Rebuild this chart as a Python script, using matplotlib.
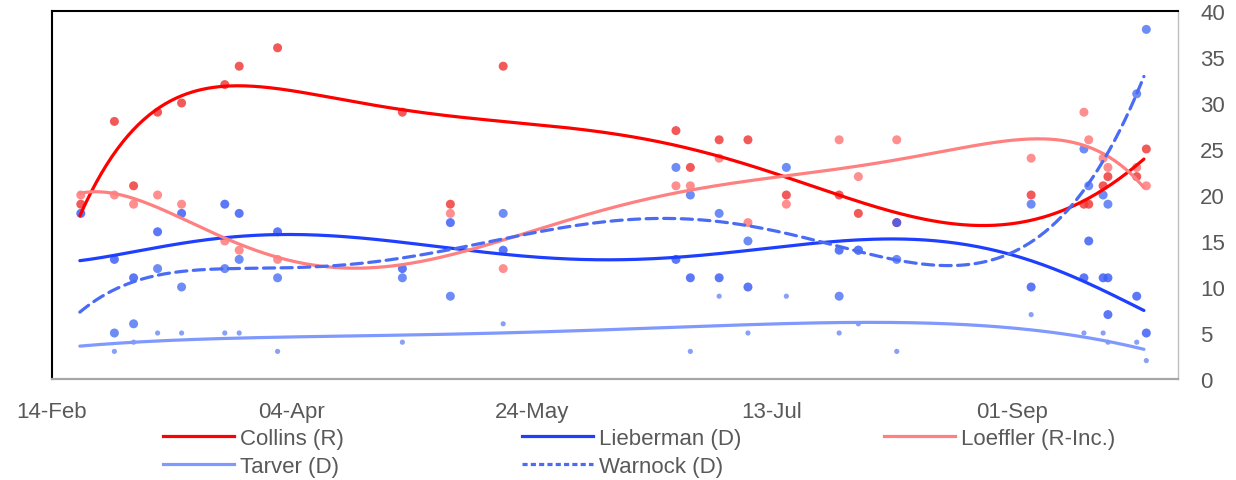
import numpy as np
import pandas as pd
import matplotlib
matplotlib.use("Agg")
import matplotlib.pyplot as plt
import matplotlib.dates as mdates
from matplotlib.lines import Line2D

# ---- poll data (2020) ----
poll_dates = ["2020-02-20", "2020-02-27", "2020-03-02", "2020-03-07", "2020-03-12",
              "2020-03-21", "2020-03-24", "2020-04-01", "2020-04-27", "2020-05-07",
              "2020-05-18", "2020-06-23", "2020-06-26", "2020-07-02", "2020-07-08",
              "2020-07-16", "2020-07-27", "2020-07-31", "2020-08-08", "2020-09-05",
              "2020-09-16", "2020-09-17", "2020-09-20", "2020-09-21", "2020-09-21",
              "2020-09-27", "2020-09-29"]
nan = np.nan
collins   = [19, 28, 21, 29, 30, 32, 34, 36, 29, 19, 34, 27, 23, 26, 26, 20, 20, 18, 17, 20, 19, 19, 21, 22, nan, 22, 25]
loeffler  = [20, 20, 19, 20, 19, 15, 14, 13, nan, 18, 12, 21, 21, 24, 17, 19, 26, 22, 26, 24, 29, 26, 24, 23, nan, 23, 21]
lieberman = [18, 13, 11, 16, 18, 19, 18, 16, 12, 17, 14, 13, 11, 11, 10, nan, 14, 14, 17, 10, 11, 15, 11, 11, 7, 9, 5]
warnock   = [nan, 5, 6, 12, 10, 12, 13, 11, 11, 9, 18, 23, 20, 18, 15, 23, 9, 14, 13, 19, 25, 21, 20, 19, nan, 31, 38]
tarver    = [nan, 3, 4, 5, 5, 5, 5, 3, 4, nan, 6, nan, 3, 9, 5, 9, 5, 6, 3, 7, 5, nan, 5, 4, nan, 4, 2]

# ---- trend lines (days after 14-Feb, value) ----
collins_trend_days = [5.8, 12.9, 21.9, 26.9, 35.8, 38.8, 46.8, 60, 64.2, 72.7, 93.8, 124.6,
                      138.5, 152.4, 163.5, 178.7, 185, 195.4, 205.8, 214.5, 219.7, 227.5]
collins_trend = [17.9, 24.3, 29.2, 30.6, 32.0, 32.1, 31.7, 30.4, 29.9, 29.2, 27.9, 26.1,
                 24.5, 21.9, 19.9, 17.8, 17.0, 16.7, 17.6, 19.2, 20.8, 23.9]
loeffler_trend_days = [5.8, 10, 13.5, 16.8, 21.8, 26.9, 35.7, 40.6, 46.8, 51.7, 60, 72.7, 82.7,
                       93.8, 124.6, 152.7, 178.75, 185, 195.4, 205.8, 214.5, 219.7, 223.9, 227.5]
loeffler_trend = [20.0, 20.4, 20.3, 19.7, 18.8, 17.4, 15.3, 14.2, 13.2, 12.8, 12.0, 12.3, 13.8,
                  15.0, 19.5, 22.1, 24.1, 24.6, 25.7, 26.3, 25.4, 24.1, 22.6, 21.0]
lieberman_trend_days = [5.8, 12.8, 21.8, 30.8, 35.7, 46.8, 51.7, 60, 72.7, 82.7, 93.8, 108.6,
                        124.6, 138.5, 152.4, 163.5, 178.75, 185, 198.9, 214.5, 227.5]
lieberman_trend = [12.9, 13.3, 14.4, 15.1, 15.3, 15.65, 15.65, 15.5, 14.9, 14.3, 13.6, 13.0,
                   13.0, 13.6, 14.4, 15.0, 15.3, 15.0, 13.4, 10.9, 7.4]
warnock_trend_days = [5.8, 10.7, 16.8, 21.8, 30.8, 40.6, 51.7, 60, 72.7, 82.7, 93.8, 105.1,
                      115.6, 124.6, 132.7, 144.7, 153.7, 163.5, 175.6, 185, 195.4, 199.9,
                      205.8, 212.8, 215.5, 219.7, 223.9, 227.5]
warnock_trend = [7.2, 9.1, 10.7, 11.2, 11.8, 12.0, 12.1, 12.3, 13.2, 14.3, 15.1, 16.3,
                 17.0, 17.4, 17.4, 16.7, 15.8, 14.6, 13.0, 12.3, 12.7, 13.4,
                 15.9, 19.2, 21.0, 24.3, 28.3, 33.0]
tarver_trend_days = [5.8, 51.7, 60, 93.8, 125.6, 152.4, 178.75, 185, 205.8, 214.5, 227.5]
tarver_trend = [3.6, 4.5, 4.6, 5.25, 5.5, 5.9, 6.05, 6.0, 5.4, 4.7, 3.1]

axis_start = "2020-02-14"
axis_end_days = 234.6
xtick_dates = ["2020-02-14", "2020-04-04", "2020-05-24", "2020-07-13", "2020-09-01"]
xtick_labels = ["14-Feb", "04-Apr", "24-May", "13-Jul", "01-Sep"]
yticks = [0, 5, 10, 15, 20, 25, 30, 35, 40]

series = [
    # name, values, trend days, trend values, line colour, marker colour, marker area, style, order
    ("Collins (R)", collins, collins_trend_days, collins_trend, "#ff0000", "#f03c3c", 42, "-", 6),
    ("Lieberman (D)", lieberman, lieberman_trend_days, lieberman_trend, "#1f3fff", "#3f60f5", 42, "-", 6),
    ("Loeffler (R-Inc.)", loeffler, loeffler_trend_days, loeffler_trend, "#ff8080", "#ff7a7a", 42, "-", 6),
    ("Tarver (D)", tarver, tarver_trend_days, tarver_trend, "#8099ff", "#7490f7", 14, "-", 4),
    ("Warnock (D)", warnock, warnock_trend_days, warnock_trend, "#4a6cf5", "#5578f5", 42, "--", 6),
]

plt.rcParams["font.family"] = ["Liberation Sans", "DejaVu Sans"]
fig = plt.figure(figsize=(12.36, 4.81), dpi=100)
ax = fig.add_axes([52/1236, 1-380/481, (1178-52)/1236, (380-12)/481])

t0 = pd.Timestamp(axis_start)
t0num = mdates.date2num(t0)
xnum = mdates.date2num(pd.to_datetime(poll_dates))

handles = {}
for name, vals, td, tv, lc, mc, ms, ls, order in series:
    v = np.array(vals, dtype=float)
    m = ~np.isnan(v)
    ax.scatter(xnum[m], v[m], s=ms, color=mc, alpha=0.85, edgecolors="none", zorder=2)
for name, vals, td, tv, lc, mc, ms, ls, order in series:
    td = np.array(td, dtype=float)
    tv = np.array(tv, dtype=float)
    p = np.polynomial.Polynomial.fit(td, tv, order)
    grid = np.linspace(td.min(), td.max(), 400)
    kw = dict(color=lc, lw=2.3, zorder=3, solid_capstyle="round")
    if ls == "--":
        kw.update(dashes=(3.5, 2.0), dash_capstyle="round")
    ax.plot(t0num + grid, p(grid), **kw)
    h = Line2D([], [], color=lc, lw=2.3)
    if ls == "--":
        h.set_dashes((1.6, 1.0))
    handles[name] = h

ax.set_xlim(t0num, t0num + axis_end_days)
ax.set_ylim(0, 40)
ax.set_xticks(mdates.date2num(pd.to_datetime(xtick_dates)))
ax.set_xticklabels(xtick_labels)
ax.set_yticks(yticks)
ax.yaxis.tick_right()
ax.tick_params(axis="both", length=0, labelsize=16, labelcolor="#595959")
ax.tick_params(axis="x", pad=16)
ax.tick_params(axis="y", pad=16)
for side in ["left", "top"]:
    ax.spines[side].set_color("black")
    ax.spines[side].set_linewidth(1.5)
ax.spines["bottom"].set_color("#a6a6a6")
ax.spines["bottom"].set_linewidth(1.6)
ax.spines["right"].set_color("#bfbfbf")
ax.spines["right"].set_linewidth(1.0)

cols = [(["Collins (R)", "Tarver (D)"], 163), (["Lieberman (D)", "Warnock (D)"], 522), (["Loeffler (R-Inc.)"], 884)]
for names, xpx in cols:
    fig.legend([handles[n] for n in names], names, loc="upper left",
               bbox_to_anchor=(xpx/1236, 1-429/481), frameon=False,
               fontsize=16, handlelength=3.2, handletextpad=0.25,
               labelspacing=0.32, borderpad=0, borderaxespad=0,
               labelcolor="#595959")

fig.savefig("out.png", dpi=100)
